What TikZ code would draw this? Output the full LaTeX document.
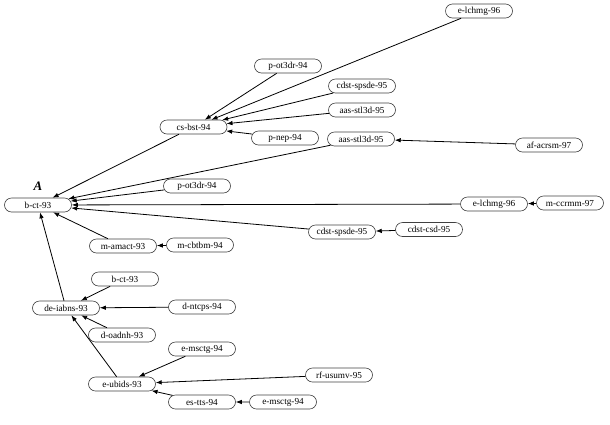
\documentclass[tikz,border=0pt]{standalone}
\usepackage{fontspec}
\setmainfont{Liberation Serif}
\usetikzlibrary{shapes.misc,arrows.meta}
\begin{document}
\begin{tikzpicture}[x=1pt,y=-1pt,
  pub/.style={rounded rectangle,draw=black!75,line width=0.6pt,minimum width=67pt,minimum height=14pt,inner sep=0pt,font=\fontsize{9.2}{10}\selectfont},
  cite/.style={-{Latex[length=6pt,width=4.5pt]},line width=0.8pt,black}]
\useasboundingbox (0,0) rectangle (610,424);
\node[pub] (bct) at (38,205) {b-ct-93};
\node[font=\fontsize{13}{14}\selectfont\bfseries\itshape] (A) at (38,186) {A};
\node[pub] (csbst) at (193.5,127) {cs-bst-94};
\node[pub] (pot1) at (288,66) {p-ot3dr-94};
\node[pub] (cdst1) at (362,86) {cdst-spsde-95};
\node[pub] (aas1) at (362,110) {aas-stl3d-95};
\node[pub] (pnep) at (285,138) {p-nep-94};
\node[pub] (aas2) at (361,139) {aas-stl3d-95};
\node[pub] (elch1) at (479,11) {e-lchmg-96};
\node[pub] (afac) at (549,145) {af-acrsm-97};
\node[pub] (pot2) at (197,186) {p-ot3dr-94};
\node[pub] (cdst2) at (342,232) {cdst-spsde-95};
\node[pub] (mcbt) at (200,245) {m-cbtbm-94};
\node[pub] (mama) at (123,246) {m-amact-93};
\node[pub] (elch2) at (494,204) {e-lchmg-96};
\node[pub] (mccr) at (570,203) {m-ccrmm-97};
\node[pub] (cdsd) at (429,229.5) {cdst-csd-95};
\node[pub] (bct2) at (125,279) {b-ct-93};
\node[pub] (deia) at (66,308) {de-iabns-93};
\node[pub] (doad) at (122,335) {d-oadnh-93};
\node[pub] (dntc) at (202,307) {d-ntcps-94};
\node[pub] (emsc1) at (202,349) {e-msctg-94};
\node[pub] (eubi) at (122,384) {e-ubids-93};
\node[pub] (rfus) at (339,375) {rf-usumv-95};
\node[pub] (estt) at (202,402) {es-tts-94};
\node[pub] (emsc2) at (283,402) {e-msctg-94};

\draw[cite] (csbst) -- (bct);
\draw[cite] (pot1) -- (csbst);
\draw[cite] (elch1) -- (csbst);
\draw[cite] (cdst1) -- (csbst);
\draw[cite] (aas1) -- (csbst);
\draw[cite] (pnep) -- (csbst);
\draw[cite] (afac) -- (aas2);
\draw[cite] (aas2) -- (bct);
\draw[cite] (pot2) -- (bct);
\draw[cite] (elch2) -- (bct);
\draw[cite] (cdst2) -- (bct);
\draw[cite] (mccr) -- (elch2);
\draw[cite] (cdsd) -- (cdst2);
\draw[cite] (mama) -- (bct);
\draw[cite] (mcbt) -- (mama);
\draw[cite] (deia) -- (bct);
\draw[cite] (bct2) -- (deia);
\draw[cite] (dntc) -- (deia);
\draw[cite] (doad) -- (deia);
\draw[cite] (eubi) -- (deia);
\draw[cite] (emsc1) -- (eubi);
\draw[cite] (rfus) -- (eubi);
\draw[cite] (estt) -- (eubi);
\draw[cite] (emsc2) -- (estt);
\end{tikzpicture}
\end{document}
